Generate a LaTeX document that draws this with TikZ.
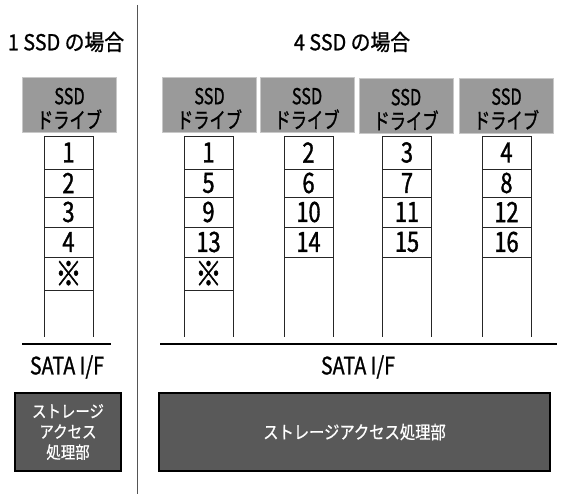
\documentclass[tikz,border=0pt]{standalone}
\usepackage{fontspec}
\setmainfont{Noto Sans CJK JP}[FakeStretch=0.8, FakeBold=1]
\newfontfamily\titlefont{Noto Sans CJK JP}[FakeStretch=0.9, FakeBold=1]
\newfontfamily\hdrfont{Noto Sans CJK JP}[FakeStretch=0.74, FakeBold=1]
\newfontfamily\digfont{Noto Sans CJK JP}[FakeStretch=0.78, FakeBold=1.2]
\newfontfamily\satafont{Noto Sans CJK JP}[FakeStretch=0.82, FakeBold=1]
\newfontfamily\wfont{Noto Sans CJK JP}[FakeStretch=0.85, FakeBold=0.6]
\definecolor{hdrgray}{HTML}{9A9A9A}
\definecolor{hdrborder}{HTML}{C8C8C8}
\definecolor{boxgray}{HTML}{595959}
\definecolor{divgray}{HTML}{555555}
\newcommand{\kome}{{\fontsize{34}{34}\selectfont ※}}
\begin{document}
\begin{tikzpicture}[x=1pt,y=-1pt,
  titletext/.style={font=\titlefont\fontsize{22}{24}\selectfont, inner sep=0},
  hdr/.style={fill=hdrgray, draw=hdrborder, line width=1pt, minimum width=94pt, minimum height=55pt, inner sep=0},
  hdrtext/.style={align=center, font=\hdrfont\fontsize{22}{24}\selectfont, inner sep=0},
  cell/.style={draw=black!85, line width=0.8pt, minimum width=49pt, font=\digfont\fontsize{28}{28}\selectfont, inner sep=0},
  baseline/.style={line width=1.3pt, black},
  satatext/.style={font=\satafont\fontsize{24}{26}\selectfont, inner sep=0},
  procbox/.style={fill=boxgray, draw=black, line width=2pt, text=white, inner sep=0, align=center},
]
\useasboundingbox (0,0) rectangle (564,494);
% divider
\coordinate (divtop) at (137,5);
\coordinate (divbot) at (137,494);
\draw[divgray, line width=1pt] (divtop) -- (divbot);
% titles
\node[titletext] (t1) at (66,42) {1 SSD の場合};
\node[titletext] (t4) at (352,42) {4 SSD の場合};
% headers
\foreach \h/\x/\y in {0/69.5/105.5, 1/209.5/105.5, 2/307/105.5, 3/406/106.5, 4/506.5/106}{
  \node[hdr] (h\h) at (\x,\y) {};
  \node[hdrtext] (h\h t) at ([yshift=-3pt]h\h.center) {SSD\\ドライブ};
}
% columns
\foreach \c/\x/\labs/\n in {0/68.5/{1,2,3,4,\kome}/5, 1/208.5/{1,5,9,13,\kome}/5, 2/308.5/{2,6,10,14}/4, 3/407/{3,7,11,15}/4, 4/506.5/{4,8,12,16}/4}{
  \foreach \lab [count=\i] in \labs {
    \ifcase\i\or
      \node[cell, minimum height=33pt] (c\c r\i) at (\x,152.5) {\lab};
    \or
      \node[cell, minimum height=28pt] (c\c r\i) at (\x,183) {\lab};
    \or
      \node[cell, minimum height=30pt] (c\c r\i) at (\x,212) {\lab};
    \or
      \node[cell, minimum height=30pt] (c\c r\i) at (\x,242) {\lab};
    \or
      \node[cell, minimum height=33pt] (c\c r\i) at (\x,273.5) {\lab};
    \fi
  }
  \coordinate (c\c bl) at ([xshift=0.4pt]c\c r\n.south west |- 0,337);
  \coordinate (c\c br) at ([xshift=-0.4pt]c\c r\n.south east |- 0,337);
  \draw[black!85, line width=0.8pt] ([xshift=0.4pt]c\c r\n.south west) -- (c\c bl);
  \draw[black!85, line width=0.8pt] ([xshift=-0.4pt]c\c r\n.south east) -- (c\c br);
}
% base lines
\coordinate (bl0a) at (22,344);
\coordinate (bl0b) at (111,344);
\coordinate (bl1a) at (160,344);
\coordinate (bl1b) at (557,344);
\draw[baseline] (bl0a) -- (bl0b);
\draw[baseline] (bl1a) -- (bl1b);
% SATA
\node[satatext] (s0) at (67,367) {SATA I/F};
\node[satatext] (s1) at (358,367) {SATA I/F};
% processing boxes
\node[procbox, minimum width=106pt, minimum height=78pt, font=\wfont\fontsize{17}{20.5}\selectfont] (p0) at (68,432) {ストレージ\\アクセス\\処理部};
\node[procbox, minimum width=391pt, minimum height=78pt, font=\wfont\fontsize{18}{20}\selectfont] (p1) at (354.5,432) {ストレージアクセス処理部};
\end{tikzpicture}
\end{document}
